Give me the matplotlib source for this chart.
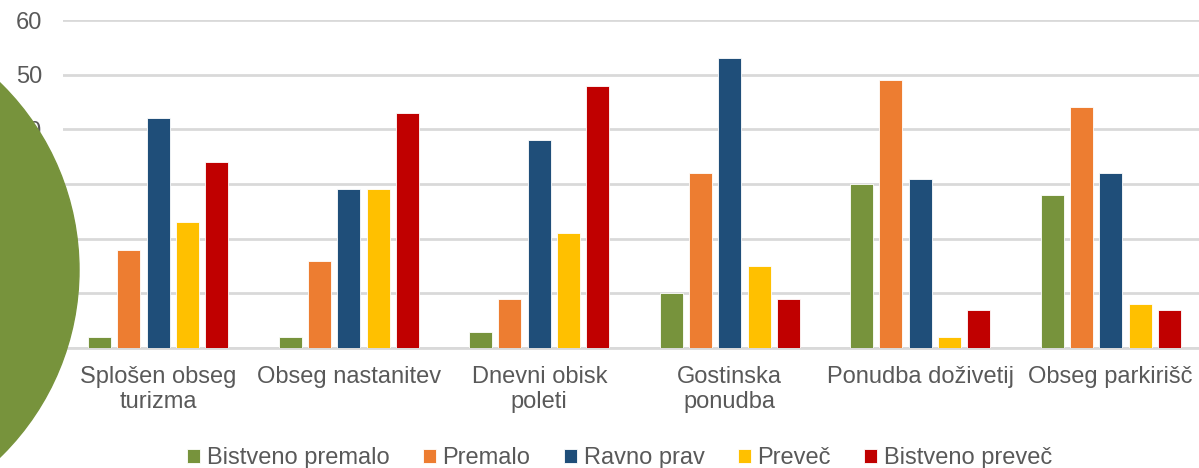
import numpy as np
import matplotlib.pyplot as plt
from matplotlib.patches import Ellipse

plt.rcParams["font.family"] = ["Liberation Sans", "DejaVu Sans"]

categories = ["Splošen obseg\nturizma", "Obseg nastanitev", "Dnevni obisk\npoleti",
              "Gostinska\nponudba", "Ponudba doživetij", "Obseg parkirišč"]
series = ["Bistveno premalo", "Premalo", "Ravno prav", "Preveč", "Bistveno preveč"]
bistveno_premalo = [2, 2, 3, 10, 30, 28]
premalo = [18, 16, 9, 32, 49, 44]
ravno_prav = [42, 29, 38, 53, 31, 32]
prevec = [23, 29, 21, 15, 2, 8]
bistveno_prevec = [34, 43, 48, 9, 7, 7]
values = [bistveno_premalo, premalo, ravno_prav, prevec, bistveno_prevec]
colors = ["#77933C", "#ED7D31", "#1F4E79", "#FFC000", "#C00000"]

W, H = 1199, 468
fig = plt.figure(figsize=(W / 100, H / 100), dpi=100)
ax = fig.add_axes([63 / W, 1 - 348 / H, (1206 - 63) / W, (348 - 20) / H])

x = np.arange(len(categories))
pitch = 0.154
width = 0.121
for i, (name, vals, c) in enumerate(zip(series, values, colors)):
    ax.bar(x + (i - 2) * pitch, vals, width, color=c, label=name,
           edgecolor="white", linewidth=0.6, zorder=3)

ax.set_xlim(-0.5, len(categories) - 0.5)
ax.set_ylim(0, 60)
ax.set_yticks(range(0, 61, 10))
ax.yaxis.grid(True, color="#D9D9D9", linewidth=2)
ax.set_axisbelow(True)
for s in ["top", "right", "left"]:
    ax.spines[s].set_visible(False)
ax.spines["bottom"].set_color("#D9D9D9")
ax.spines["bottom"].set_linewidth(2)
ax.tick_params(axis="both", length=0, labelsize=17, labelcolor="#595959")
ax.tick_params(axis="y", pad=15)
ax.tick_params(axis="x", pad=13)
ax.set_xticks(x)
ax.set_xticklabels(categories, linespacing=1.2)

ax.legend(loc="lower center", bbox_to_anchor=(0.487, -0.435), ncol=5, frameon=False,
          fontsize=17, labelcolor="#595959", handlelength=0.55, handleheight=0.55,
          handletextpad=0.3, columnspacing=1.4)

# green circle overlapping the left edge
fig.patches.append(Ellipse((-182 / W, 1 - 270 / H), 2 * 261 / W, 2 * 261 / H,
                           transform=fig.transFigure, color="#77933C", zorder=10))

fig.savefig("out.png", dpi=100)
